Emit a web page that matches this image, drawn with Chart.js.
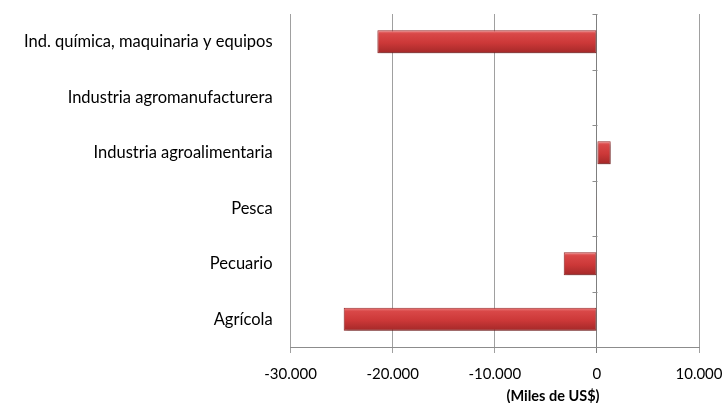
<!DOCTYPE html>
<html>
<head>
<meta charset="utf-8">
<script src="https://cdn.jsdelivr.net/npm/chart.js@4.4.1/dist/chart.umd.min.js"></script>
<style>
  html, body { margin: 0; padding: 0; background: #fff; }
  #wrap { width: 727px; height: 403px; position: relative; }
</style>
</head>
<body>
<div id="wrap"><canvas id="chart"></canvas></div>
<script>
// Datos (Miles de US$)
const categorias = [
  'Ind. química, maquinaria y equipos',
  'Industria agromanufacturera',
  'Industria agroalimentaria',
  'Pesca',
  'Pecuario',
  'Agrícola'
];
const valores = [-21500, 0, 1350, -30, -3250, -24800];
const ticksX = [-30000, -20000, -10000, 0, 10000];
const tituloX = '(Miles de US$)';

// Formato con punto como separador de miles
function formatoMiles(v) {
  const s = Math.abs(v).toString().replace(/\B(?=(\d{3})+(?!\d))/g, '.');
  return (v < 0 ? '-' : '') + s;
}

// Degradado vertical para cada barra (efecto 3D)
function colorBarra(ctx) {
  const chart = ctx.chart;
  const y = chart.scales && chart.scales.y;
  if (!y || ctx.dataIndex === undefined) return '#cc3d3d';
  const centro = y.getPixelForValue(ctx.dataIndex);
  if (!isFinite(centro)) return '#cc3d3d';
  const alto = 23;
  const g = chart.ctx.createLinearGradient(0, centro - alto / 2, 0, centro + alto / 2);
  g.addColorStop(0, '#ef8484');
  g.addColorStop(0.15, '#d94848');
  g.addColorStop(0.55, '#cc3838');
  g.addColorStop(1, '#a32828');
  return g;
}

// Sombra debajo de las barras
const sombra = {
  id: 'sombra',
  beforeDatasetDraw(chart) {
    const c = chart.ctx;
    c.save();
    c.shadowColor = 'rgba(0,0,0,0.35)';
    c.shadowBlur = 3;
    c.shadowOffsetX = 1;
    c.shadowOffsetY = 2;
  },
  afterDatasetDraw(chart) {
    chart.ctx.restore();
  }
};

// Marcas del eje de categorías sobre la línea del cero + título del eje x
const ejeCero = {
  id: 'ejeCero',
  afterDraw(chart) {
    const c = chart.ctx;
    const x = chart.scales.x;
    const y = chart.scales.y;
    const x0 = Math.round(x.getPixelForValue(0)) + 0.5;
    c.save();
    c.strokeStyle = '#8c8c8c';
    c.lineWidth = 1;
    c.beginPath();
    for (let i = 0; i < categorias.length; i++) {
      const yy = Math.round(y.getPixelForValue(i - 0.5)) + 0.5;
      c.moveTo(x0 - 5, yy);
      c.lineTo(x0, yy);
    }
    c.stroke();

    c.font = 'bold 14.5px Lato, sans-serif';
    c.fillStyle = '#000';
    c.textAlign = 'center';
    c.textBaseline = 'middle';
    c.fillText(tituloX, x.getPixelForValue(-4300), 396);
    c.restore();
  }
};

new Chart(document.getElementById('chart'), {
  type: 'bar',
  data: {
    labels: categorias,
    datasets: [{
      data: valores,
      backgroundColor: colorBarra,
      borderColor: '#9a2a2a',
      borderWidth: 1,
      borderSkipped: false,
      barPercentage: 0.41,
      categoryPercentage: 1
    }]
  },
  options: {
    indexAxis: 'y',
    responsive: true,
    maintainAspectRatio: false,
    animation: false,
    layout: { padding: { top: 14, right: 28, bottom: 8, left: 14 } },
    plugins: {
      legend: { display: false },
      tooltip: { enabled: false }
    },
    scales: {
      x: {
        min: ticksX[0],
        max: ticksX[ticksX.length - 1],
        afterBuildTicks(axis) {
          axis.ticks = ticksX.map(v => ({ value: v }));
        },
        afterFit(axis) {
          axis.paddingLeft = 0;
          axis.paddingRight = 0;
        },
        grid: {
          color: ctx => (ctx.tick && ctx.tick.value === 0 ? '#7f7f7f' : '#a0a0a0'),
          lineWidth: 1,
          tickLength: 6,
          drawTicks: true
        },
        border: { display: true, color: '#8c8c8c' },
        ticks: {
          color: '#000',
          font: { family: 'Lato, sans-serif', size: 15 },
          padding: 12,
          maxRotation: 0,
          callback: v => formatoMiles(v)
        }
      },
      y: {
        afterFit(axis) {
          axis.paddingTop = 0;
          axis.paddingBottom = 0;
        },
        grid: { display: false },
        border: { display: false },
        ticks: {
          color: '#000',
          font: { family: 'Lato, sans-serif', size: 16.5 },
          padding: 10
        }
      }
    }
  },
  plugins: [sombra, ejeCero]
});
</script>
</body>
</html>
